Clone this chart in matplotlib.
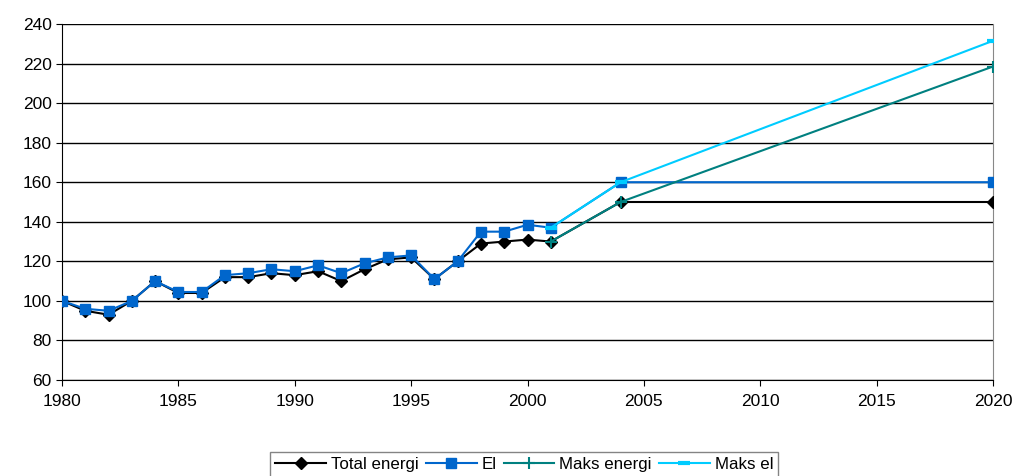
import matplotlib.pyplot as plt

years = [1980, 1981, 1982, 1983, 1984, 1985, 1986, 1987, 1988, 1989, 1990,
         1991, 1992, 1993, 1994, 1995, 1996, 1997, 1998, 1999, 2000, 2001,
         2004, 2020]
total_energi = [100, 95, 93, 100, 110, 104, 104, 112, 112, 114, 113,
                115, 110, 116, 121, 122, 111, 120, 129, 130, 131, 130,
                150, 150]
el = [100, 96, 95, 100, 110, 104.5, 104.5, 113, 114, 116, 115,
      118, 114, 119, 122, 123, 111, 120, 135, 135, 138.5, 137,
      160, 160]

maks_years = [2001, 2004, 2020]
maks_energi = [130, 150, 218.5]
maks_el = [137, 160, 231.5]

plt.rcParams['font.family'] = ['Liberation Sans', 'DejaVu Sans']

fig = plt.figure(figsize=(10.14, 4.76), dpi=100)
ax = fig.add_axes([62 / 1014, 1 - 380 / 476, 931 / 1014, 356 / 476])

ax.plot(years, total_energi, color='black', lw=1.5, marker='D', ms=6.5,
        label='Total energi', zorder=3)
ax.plot(years, el, color='#0066CC', lw=1.5, marker='s', ms=7,
        label='El', zorder=4)
ax.plot(maks_years, maks_energi, color='#008080', lw=1.5, marker='+', ms=9,
        mew=1.5, label='Maks energi', zorder=5)
ax.plot(maks_years, maks_el, color='#00CCFF', lw=1.5, marker='_', ms=9,
        mew=3, label='Maks el', zorder=5)

ax.set_xlim(1980, 2020)
ax.set_ylim(60, 240)
ax.set_xticks(range(1980, 2021, 5))
ax.set_yticks(range(60, 241, 20))
ax.tick_params(labelsize=12.5, length=4, color='black')
ax.tick_params(axis='x', pad=6)

ax.grid(axis='y', color='black', lw=1)
ax.set_axisbelow(True)
ax.spines['top'].set_visible(False)
ax.spines['right'].set_color('#888888')
for side in ('left', 'bottom'):
    ax.spines[side].set_color('black')

leg = fig.legend(loc='lower center', bbox_to_anchor=(0.517, -0.02), ncol=4,
                 fontsize=12.2, frameon=True, fancybox=False, edgecolor='#666666',
                 handlelength=3, handletextpad=0.3, columnspacing=0.4,
                 borderpad=0.3)

fig.savefig('out.png', dpi=100)
